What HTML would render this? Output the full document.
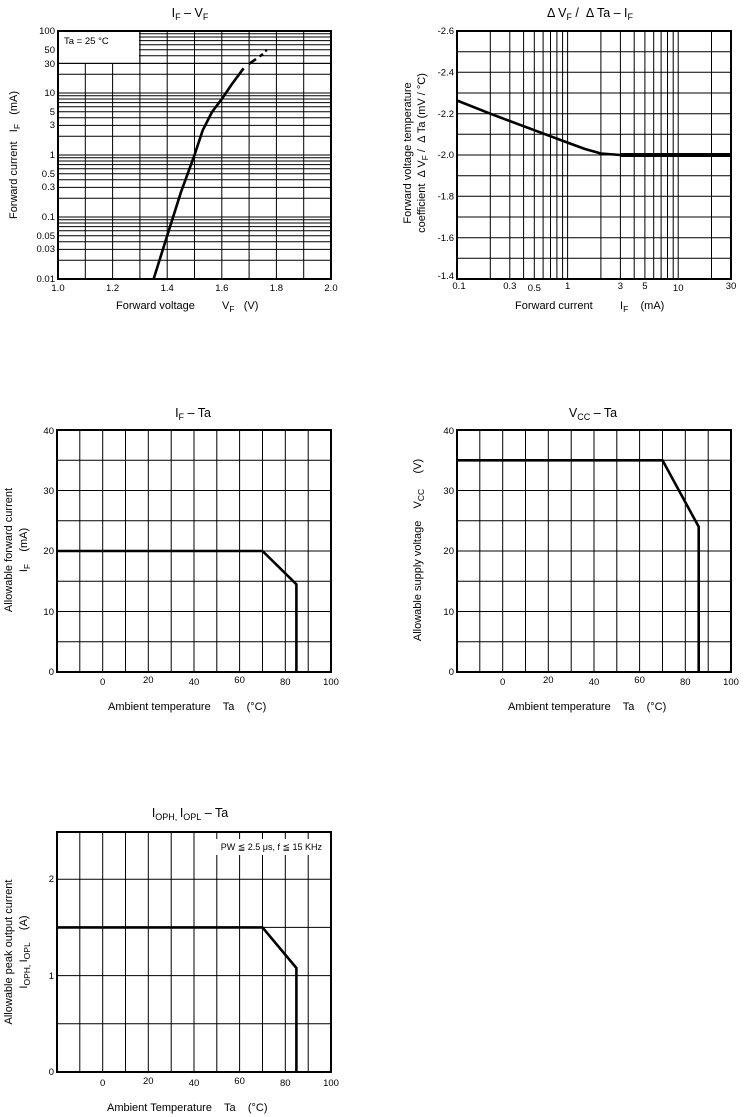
<!DOCTYPE html>
<html><head><meta charset="utf-8"><style>
html,body{margin:0;padding:0;background:#fff}
svg{display:block}
text{font-family:"Liberation Sans",sans-serif;fill:#000;white-space:pre}
.t{font-size:9.5px}
.ti{font-size:12.5px}
.ax{font-size:11px}
.g{stroke:#000;stroke-width:1;fill:none}
.b{stroke:#000;stroke-width:2;fill:none}
.c{stroke:#000;stroke-width:2.6;fill:none;stroke-linejoin:round}
</style></head><body>
<svg width="747" height="1117" viewBox="0 0 747 1117" xmlns="http://www.w3.org/2000/svg" xml:space="preserve">
<!-- ===== Chart 1 ===== -->
<text class="ti" x="190" y="17" text-anchor="middle">I<tspan font-size="9" dy="3">F</tspan><tspan dy="-3"> – V</tspan><tspan font-size="9" dy="3">F</tspan></text>
<path class="g" d="
M58 260.3H331M58 249.4H331M58 241.7H331M58 235.7H331M58 230.8H331M58 226.6H331M58 223H331M58 219.8H331M58 217H331
M58 198.3H331M58 187.4H331M58 179.7H331M58 173.7H331M58 168.8H331M58 164.6H331M58 161H331M58 157.8H331M58 155H331
M58 136.3H331M58 125.4H331M58 117.7H331M58 111.7H331M58 106.8H331M58 102.6H331M58 99H331M58 95.8H331M58 93H331
M58 74.3H331M58 63.4H331
M139 55.7H331M139 49.7H331M139 44.8H331M139 40.6H331M139 37H331M139 33.8H331
M85.3 63.4V279M112.6 63.4V279M139.9 31V279M167.2 31V279M194.5 31V279M221.8 31V279M249.1 31V279M276.4 31V279M303.7 31V279"/>
<rect x="59" y="32" width="80" height="30.5" fill="#fff"/>
<path class="g" d="M58 63.4H331M139.9 31V63.4"/>
<rect class="b" x="58" y="31" width="273" height="248"/>
<text class="t" x="64" y="44" font-size="9">Ta = 25 °C</text>
<polyline class="c" points="153.6,279 167.2,235.7 180.9,192.3 194.5,155 202.7,130.3 212,112 221.8,99 232,84 243.6,68.3"/>
<path class="c" d="M249 64L256 59M259.5 56.5L263 54M265 51L267 50" />
<g class="t" text-anchor="end">
<text x="55" y="34">100</text><text x="55" y="53">50</text><text x="55" y="67">30</text><text x="55" y="96">10</text><text x="55" y="115">5</text><text x="55" y="128">3</text><text x="55" y="158">1</text><text x="55" y="177">0.5</text><text x="55" y="190">0.3</text><text x="55" y="220">0.1</text><text x="55" y="239">0.05</text><text x="55" y="252">0.03</text><text x="55" y="282">0.01</text>
</g>
<g class="t" text-anchor="middle">
<text x="58" y="291">1.0</text><text x="112.6" y="291">1.2</text><text x="167.2" y="291">1.4</text><text x="221.8" y="291">1.6</text><text x="276.4" y="291">1.8</text><text x="331" y="291">2.0</text>
</g>
<text class="ax" x="116" y="309">Forward voltage</text>
<text class="ax" x="222" y="309">V<tspan font-size="8.5" dy="3">F</tspan><tspan dy="-3">   (V)</tspan></text>
<text class="ax" transform="translate(17,155) rotate(-90)" text-anchor="middle">Forward current   I<tspan font-size="8.5" dy="3">F</tspan><tspan dy="-3">   (mA)</tspan></text>

<!-- ===== Chart 2 ===== -->
<text class="ti" x="590" y="17" text-anchor="middle">Δ V<tspan font-size="9" dy="3">F</tspan><tspan dy="-3"> /  Δ Ta – I</tspan><tspan font-size="9" dy="3">F</tspan></text>
<path class="g" d="
M457 51.7H731M457 72.3H731M457 93H731M457 113.7H731M457 134.3H731M457 155H731M457 175.7H731M457 196.3H731M457 217H731M457 237.7H731M457 258.3H731
M490.3 31V279M509.8 31V279M523.6 31V279M534.3 31V279M543.1 31V279M550.5 31V279M556.9 31V279M562.6 31V279M567.6 31V279
M600.9 31V279M620.4 31V279M634.2 31V279M644.9 31V279M653.7 31V279M661.1 31V279M667.5 31V279M673.2 31V279M678.2 31V279M711.5 31V279"/>
<rect class="b" x="457" y="31" width="274" height="248"/>
<polyline class="c" points="457,100.5 490.3,113.7 534.3,130.2 567.6,142.6 585,149 600.9,153.5 620.4,155"/>
<path d="M620 155H731" stroke="#000" stroke-width="4"/>
<g class="t" text-anchor="end">
<text x="454" y="34">-2.6</text><text x="454" y="75.5">-2.4</text><text x="454" y="117">-2.2</text><text x="454" y="158">-2.0</text><text x="454" y="199.5">-1.8</text><text x="454" y="241">-1.6</text><text x="454" y="279">-1.4</text>
</g>
<g class="t" text-anchor="middle">
<text x="459" y="289">0.1</text><text x="509.8" y="289">0.3</text><text x="534.3" y="291">0.5</text><text x="567.6" y="289">1</text><text x="620.4" y="289">3</text><text x="644.9" y="289">5</text><text x="678.2" y="291">10</text><text x="731" y="289">30</text>
</g>
<text class="ax" x="515" y="309">Forward current</text>
<text class="ax" x="620" y="309">I<tspan font-size="8.5" dy="3">F</tspan><tspan dy="-3">    (mA)</tspan></text>
<text class="ax" transform="translate(411,153) rotate(-90)" text-anchor="middle">Forward voltage temperature</text>
<text class="ax" transform="translate(425,153) rotate(-90)" text-anchor="middle">coefficient  Δ V<tspan font-size="8.5" dy="3">F</tspan><tspan dy="-3"> /  Δ Ta (mV / °C)</tspan></text>

<!-- ===== Chart 3 ===== -->
<text class="ti" x="193" y="417" text-anchor="middle">I<tspan font-size="9" dy="3">F</tspan><tspan dy="-3"> – Ta</tspan></text>
<path class="g" d="
M57 460.3H331M57 490.5H331M57 520.8H331M57 551H331M57 581.3H331M57 611.5H331M57 641.8H331
M79.8 430V672M102.7 430V672M125.5 430V672M148.3 430V672M171.2 430V672M194 430V672M216.8 430V672M239.6 430V672M262.5 430V672M285.3 430V672M308.2 430V672"/>
<rect class="b" x="57" y="430" width="274" height="242"/>
<polyline class="c" points="57,551 262.5,551 296.4,584.3 296.4,672"/>
<g class="t" text-anchor="end">
<text x="54" y="434">40</text><text x="54" y="494">30</text><text x="54" y="554">20</text><text x="54" y="615">10</text><text x="54" y="675">0</text>
</g>
<g class="t" text-anchor="middle">
<text x="102.7" y="685">0</text><text x="148.3" y="683">20</text><text x="194" y="685">40</text><text x="239.6" y="683">60</text><text x="285.3" y="685">80</text><text x="331" y="685">100</text>
</g>
<text class="ax" x="108" y="710">Ambient temperature    Ta    (°C)</text>
<text class="ax" transform="translate(12,550) rotate(-90)" text-anchor="middle">Allowable forward current</text>
<text class="ax" transform="translate(27,550) rotate(-90)" text-anchor="middle">I<tspan font-size="8.5" dy="3">F</tspan><tspan dy="-3">    (mA)</tspan></text>

<!-- ===== Chart 4 ===== -->
<text class="ti" x="593" y="417" text-anchor="middle">V<tspan font-size="9" dy="3">CC</tspan><tspan dy="-3"> – Ta</tspan></text>
<path class="g" d="
M457 460.3H731M457 490.5H731M457 520.8H731M457 551H731M457 581.3H731M457 611.5H731M457 641.8H731
M479.8 430V672M502.7 430V672M525.5 430V672M548.3 430V672M571.2 430V672M594 430V672M616.8 430V672M639.6 430V672M662.5 430V672M685.3 430V672M708.2 430V672"/>
<rect class="b" x="457" y="430" width="274" height="242"/>
<polyline class="c" points="457,460.3 662.5,460.3 698.7,526.8 698.7,672"/>
<g class="t" text-anchor="end">
<text x="454" y="434">40</text><text x="454" y="494">30</text><text x="454" y="554">20</text><text x="454" y="615">10</text><text x="454" y="675">0</text>
</g>
<g class="t" text-anchor="middle">
<text x="502.7" y="685">0</text><text x="548.3" y="683">20</text><text x="594" y="685">40</text><text x="639.6" y="683">60</text><text x="685.3" y="685">80</text><text x="731" y="685">100</text>
</g>
<text class="ax" x="508" y="710">Ambient temperature    Ta    (°C)</text>
<text class="ax" transform="translate(421,550) rotate(-90)" text-anchor="middle">Allowable supply voltage    V<tspan font-size="8.5" dy="3">CC</tspan><tspan dy="-3">     (V)</tspan></text>

<!-- ===== Chart 5 ===== -->
<text class="ti" x="190" y="817" text-anchor="middle">I<tspan font-size="9" dy="3">OPH, </tspan><tspan dy="-3">I</tspan><tspan font-size="9" dy="3">OPL</tspan><tspan dy="-3"> – Ta</tspan></text>
<path class="g" d="
M57 879.2H331M57 927.4H331M57 975.6H331M57 1023.8H331
M79.8 832V1072M102.7 832V1072M125.5 832V1072M148.3 832V1072M171.2 832V1072M194 832V1072M216.8 832V1072M239.6 832V1072M262.5 832V1072M285.3 832V1072M308.2 832V1072"/>
<rect x="203" y="839" width="125" height="16" fill="#fff"/>
<rect class="b" x="57" y="832" width="274" height="240"/>
<text x="322" y="850" text-anchor="end" font-size="9">PW ≦ 2.5 μs, f ≦ 15 KHz</text>
<polyline class="c" points="57,927.4 262.5,927.4 296.4,968 296.4,1072"/>
<g class="t" text-anchor="end">
<text x="54" y="882">2</text><text x="54" y="979">1</text><text x="54" y="1075">0</text>
</g>
<g class="t" text-anchor="middle">
<text x="102.7" y="1086">0</text><text x="148.3" y="1084">20</text><text x="194" y="1086">40</text><text x="239.6" y="1084">60</text><text x="285.3" y="1086">80</text><text x="331" y="1086">100</text>
</g>
<text class="ax" x="107" y="1111">Ambient Temperature    Ta    (°C)</text>
<text class="ax" transform="translate(12,952) rotate(-90)" text-anchor="middle">Allowable peak output current</text>
<text class="ax" transform="translate(27,952) rotate(-90)" text-anchor="middle">I<tspan font-size="8.5" dy="3">OPH, </tspan><tspan dy="-3">I</tspan><tspan font-size="8.5" dy="3">OPL</tspan><tspan dy="-3">    (A)</tspan></text>
</svg>
</body></html>
